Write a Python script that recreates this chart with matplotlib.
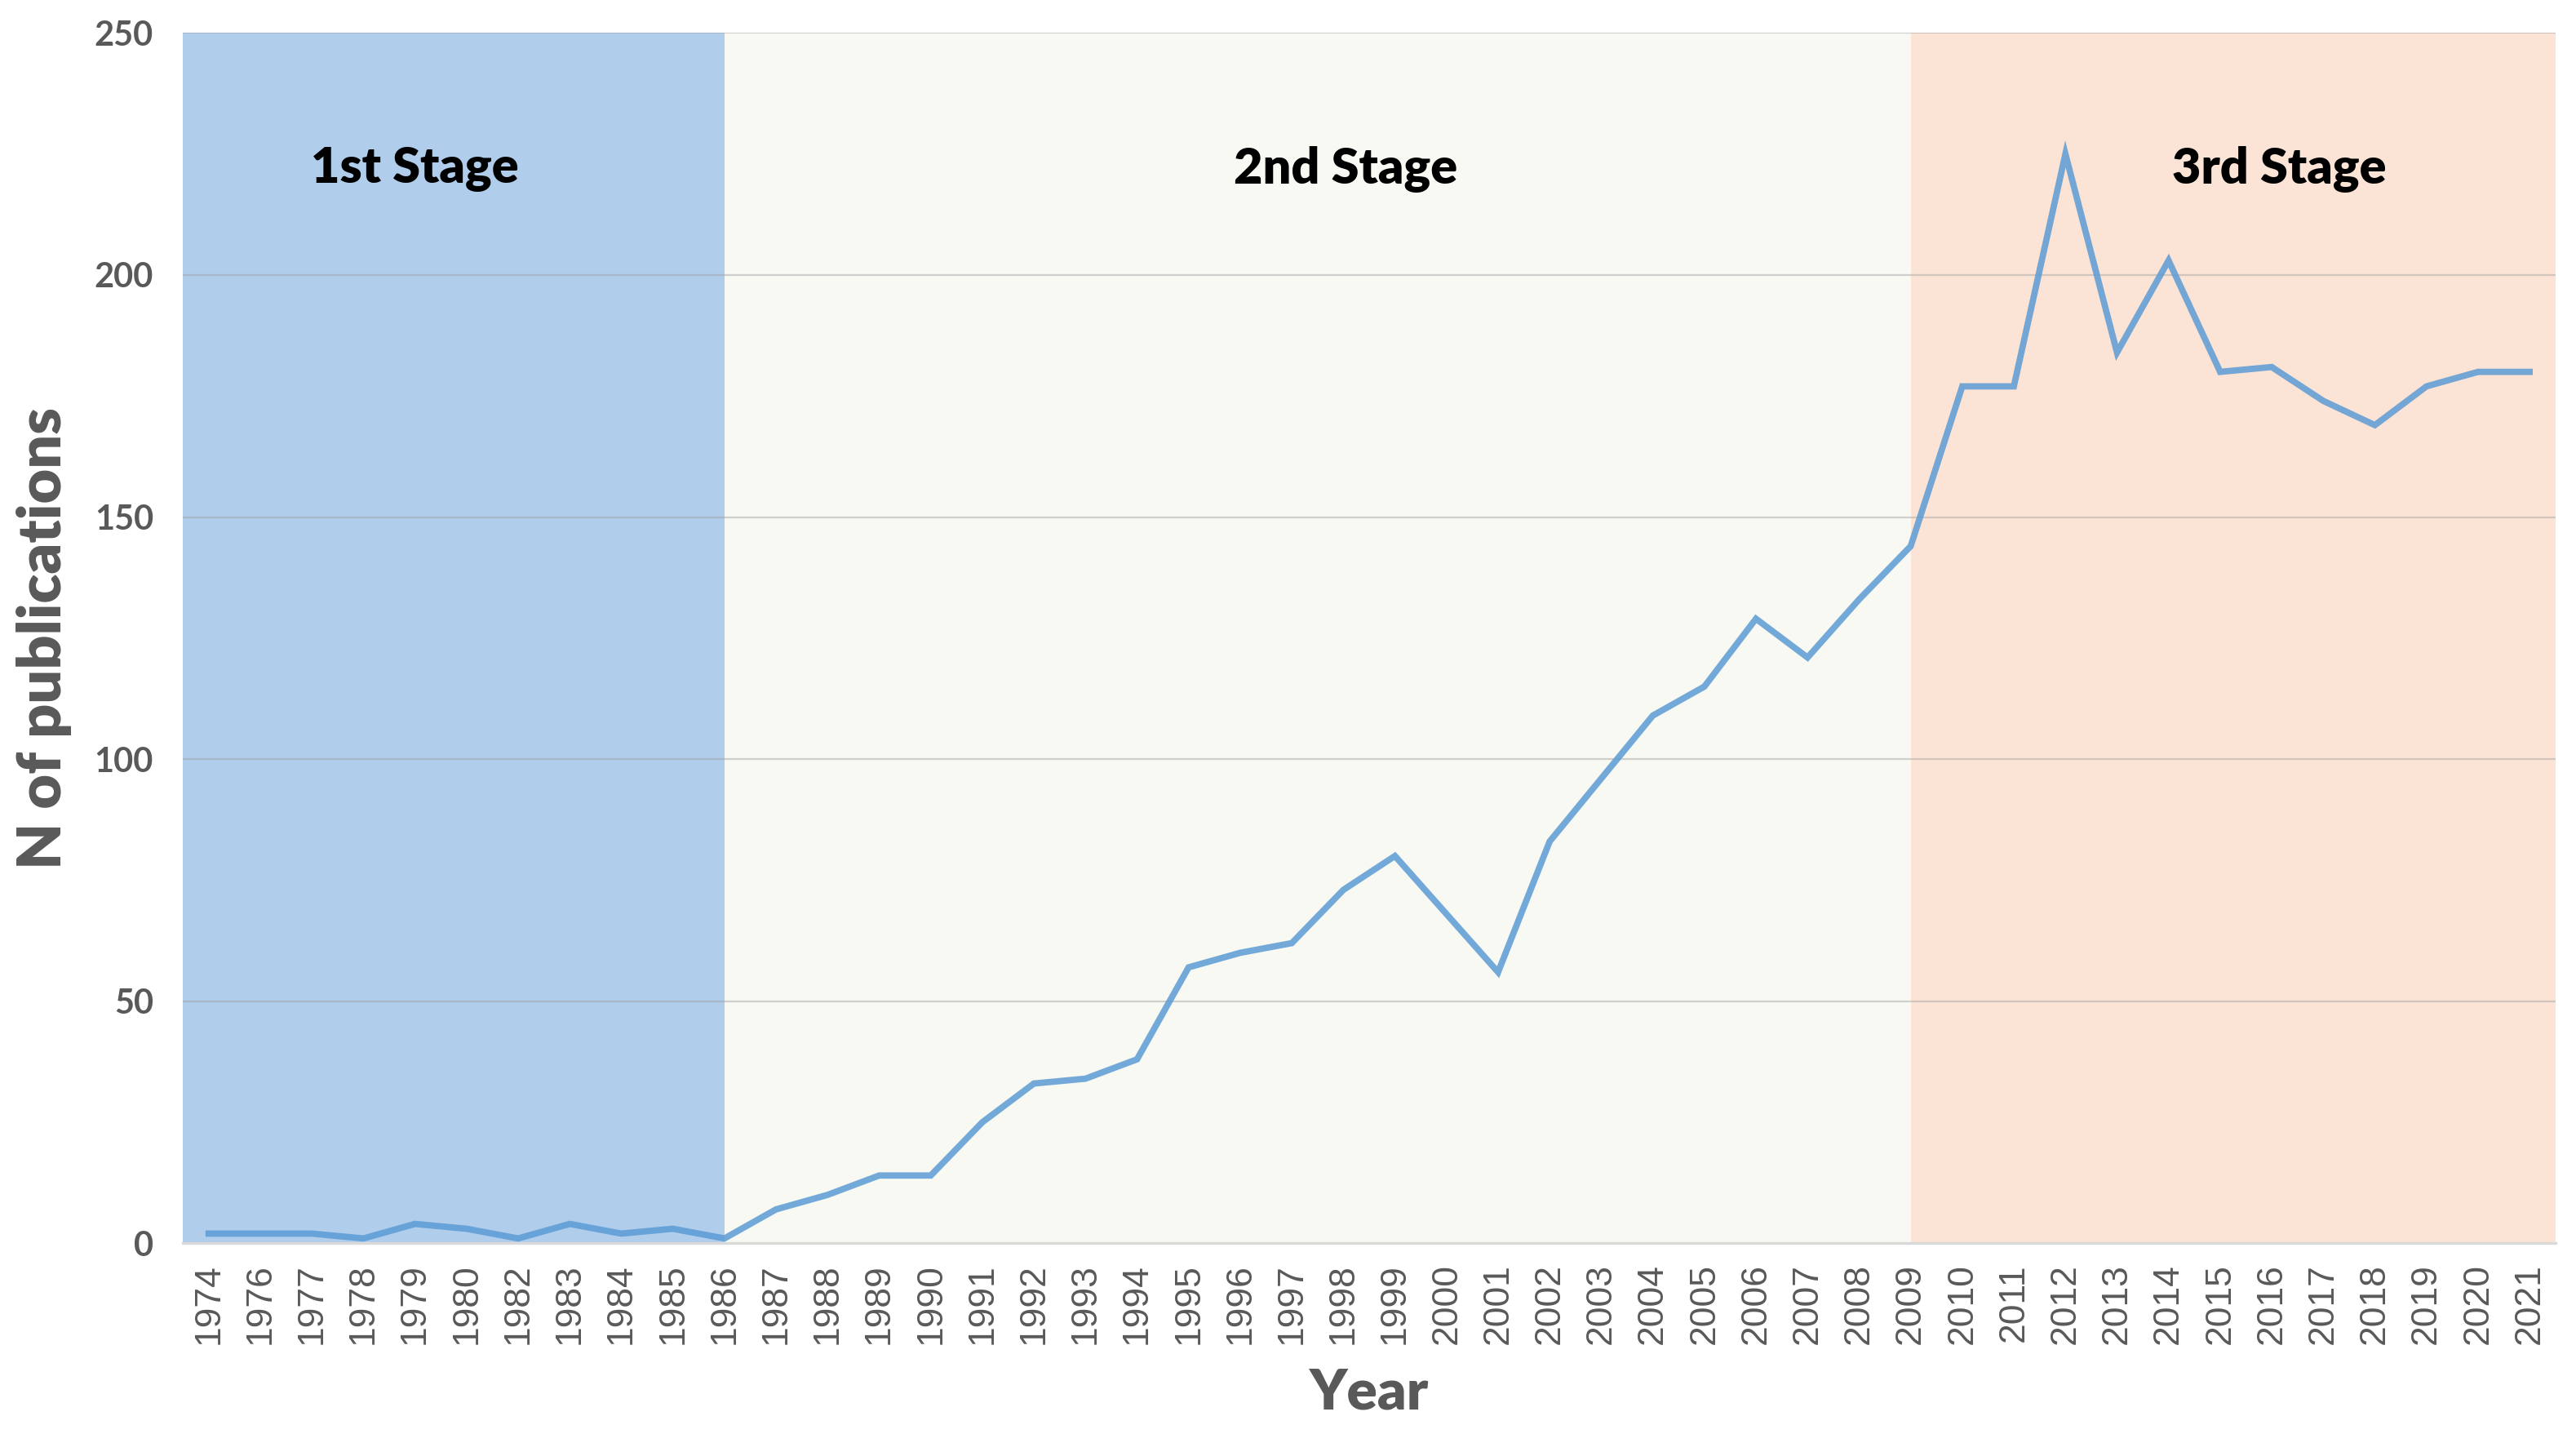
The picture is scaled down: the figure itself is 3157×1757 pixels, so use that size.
import matplotlib.pyplot as plt
import numpy as np

years = ['1974', '1976', '1977', '1978', '1979', '1980', '1982', '1983', '1984', '1985',
         '1986', '1987', '1988', '1989', '1990', '1991', '1992', '1993', '1994', '1995',
         '1996', '1997', '1998', '1999', '2000', '2001', '2002', '2003', '2004', '2005',
         '2006', '2007', '2008', '2009', '2010', '2011', '2012', '2013', '2014', '2015',
         '2016', '2017', '2018', '2019', '2020', '2021']
publications = [2, 2, 2, 1, 4, 3, 1, 4, 2, 3,
                1, 7, 10, 14, 14, 25, 33, 34, 38, 57,
                60, 62, 73, 80, 68, 56, 83, 96, 109, 115,
                129, 121, 133, 144, 177, 177, 225, 184, 203, 180,
                181, 174, 169, 177, 180, 180]

stage_names = ['1st Stage', '2nd Stage', '3rd Stage']
stage_bounds = ['1974', '1986', '2009', '2021']
stage_colors = ['#b0cdeb', '#f7f9f2', '#fbe4d6']
# where the text boxes sit (category units, value units)
label_x = [4.0, 22.05, 40.15]
label_y = 222

plt.rcParams['font.family'] = ['Lato', 'DejaVu Sans']

fig, ax = plt.subplots(figsize=(15.785, 8.785), dpi=200)
fig.subplots_adjust(left=0.071, right=0.992, top=0.977, bottom=0.133)

x = np.arange(len(years))
n = len(years)

# stage backgrounds
for i, (name, col) in enumerate(zip(stage_names, stage_colors)):
    lo = years.index(stage_bounds[i])
    hi = years.index(stage_bounds[i + 1])
    if i == 0:
        lo -= 0.5
    if i == len(stage_names) - 1:
        hi += 0.5
    ax.axvspan(lo, hi, color=col, zorder=0, lw=0)
    ax.text(label_x[i], label_y, name, ha='center', va='center',
            fontsize=22, fontweight='heavy', color='black', zorder=4)

for v in range(50, 251, 50):
    ax.axhline(v, color='#a0a0a0', lw=0.8, alpha=0.45, zorder=1)

ax.plot(x, publications, color='#5b9bd5', lw=2.8, alpha=0.85, zorder=3,
        solid_joinstyle='miter')

ax.set_xlim(-0.5, n - 0.5)
ax.set_ylim(0, 250)
ax.set_yticks(range(0, 251, 50))
ax.set_xticks(x)
ax.set_xticklabels(years, rotation=90, fontsize=16, color='#595959',
                   family=['Liberation Sans', 'DejaVu Sans'])
for lab in ax.get_yticklabels():
    lab.set_fontsize(15)
    lab.set_fontweight('bold')
    lab.set_color('#595959')
ax.tick_params(axis='both', length=0)
ax.tick_params(axis='y', pad=13)
ax.tick_params(axis='x', pad=9)

for s in ['top', 'right', 'left']:
    ax.spines[s].set_visible(False)
ax.spines['bottom'].set_color('#d9d9d9')
ax.spines['bottom'].set_linewidth(1.2)

ax.set_xlabel('Year', fontsize=25, fontweight='heavy', color='#595959', labelpad=10)
ax.set_ylabel('N of publications', fontsize=26.5, fontweight='heavy', color='#595959', labelpad=10)

fig.savefig('out.png', dpi=200)
